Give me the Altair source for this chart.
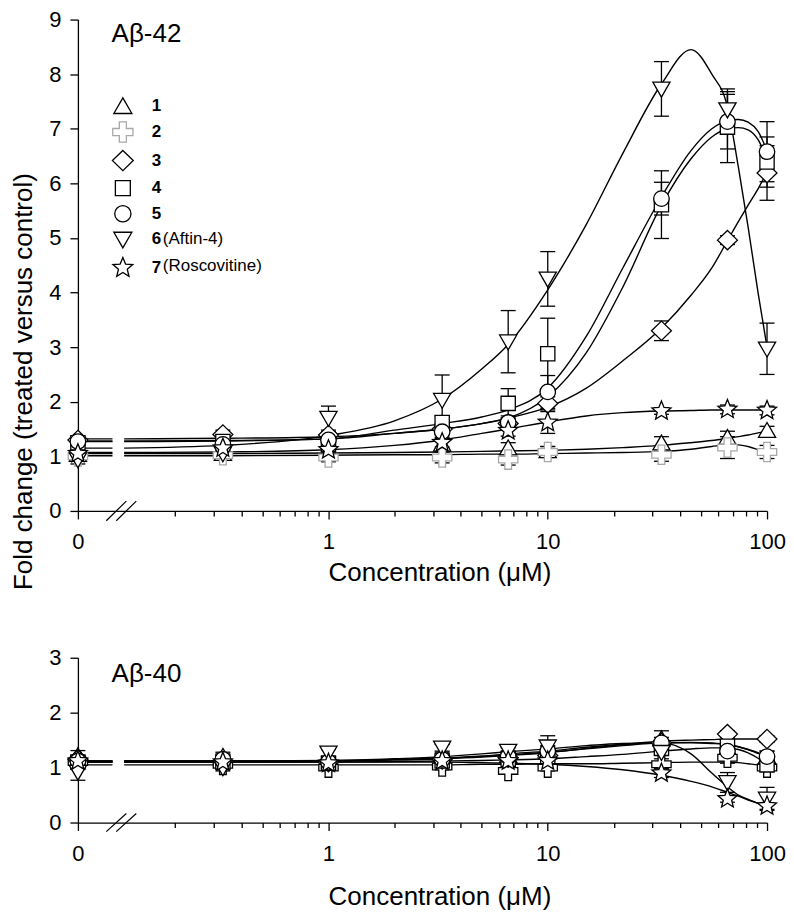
import altair as alt
import pandas as pd

# ---------------- data ----------------
conc = [0, 0.33, 1, 3.3, 6.6, 10, 33, 66, 100]          # µM, 0 sits left of the axis break
zero_pos = 0.072                                          # where "0" is drawn on the log axis
break_left = 0.1035                                       # end of the short segment before the break
curve_x = [0.117, 0.33, 1, 2, 3.3, 5, 6.6, 10, 15, 22, 33, 45, 56, 66, 74, 82, 91, 100]
series = ["1", "2", "3", "4", "5", "6", "7"]

# ---- A-beta 42 (top) ----
top_mean = {
    "1": [1.03, 1.05, 1.08, 1.22, 1.15, 1.10, 1.24, 1.34, 1.47],
    "2": [1.00, 1.02, 0.98, 0.98, 0.94, 1.08, 1.03, 1.16, 1.08],
    "3": [1.30, 1.40, 1.39, 1.50, 1.60, 1.97, 3.30, 4.96, 6.19],
    "4": [1.25, 1.27, 1.22, 1.62, 1.97, 2.88, 5.61, 7.03, 6.39],
    "5": [1.27, 1.22, 1.30, 1.45, 1.62, 2.18, 5.72, 7.13, 6.58],
    "6": [0.94, 1.05, 1.70, 2.03, 3.10, 4.25, 7.73, 7.35, 2.97],
    "7": [1.05, 1.15, 1.12, 1.25, 1.47, 1.62, 1.83, 1.86, 1.84],
}
top_err = {
    "1": [0.05, 0.05, 0.05, 0.08, 0.10, 0.08, 0.12, 0.12, 0.08],
    "2": [0.06, 0.06, 0.08, 0.10, 0.10, 0.10, 0.12, 0.20, 0.12],
    "3": [0.05, 0.08, 0.06, 0.10, 0.10, 0.12, 0.18, 0.08, 0.50],
    "4": [0.05, 0.08, 0.08, 0.12, 0.27, 0.65, 0.62, 0.65, 0.46],
    "5": [0.05, 0.06, 0.08, 0.10, 0.12, 0.30, 0.30, 0.50, 0.55],
    "6": [0.08, 0.10, 0.22, 0.46, 0.57, 0.50, 0.50, 0.38, 0.47],
    "7": [0.05, 0.05, 0.08, 0.08, 0.10, 0.20, 0.06, 0.08, 0.08],
}
top_curve = {
    "1": [1.05, 1.05, 1.06, 1.07, 1.08, 1.09, 1.10, 1.11, 1.13, 1.16, 1.20, 1.25, 1.29, 1.33, 1.36, 1.39, 1.43, 1.46],
    "2": [1.01, 1.01, 1.02, 1.03, 1.03, 1.04, 1.04, 1.05, 1.06, 1.07, 1.09, 1.13, 1.18, 1.21, 1.21, 1.18, 1.12, 1.06],
    "3": [1.32, 1.33, 1.36, 1.42, 1.50, 1.60, 1.70, 1.90, 2.25, 2.75, 3.35, 3.95, 4.45, 4.95, 5.30, 5.60, 5.90, 6.20],
    "4": [1.28, 1.29, 1.32, 1.42, 1.50, 1.60, 1.70, 2.09, 2.90, 4.10, 5.60, 6.45, 6.85, 7.00, 7.02, 6.98, 6.80, 6.45],
    "5": [1.27, 1.28, 1.32, 1.48, 1.60, 1.72, 1.85, 2.25, 3.20, 4.45, 5.75, 6.60, 7.00, 7.15, 7.17, 7.12, 6.95, 6.60],
    "6": [1.15, 1.20, 1.38, 1.65, 2.05, 2.60, 3.05, 4.05, 5.25, 6.55, 7.82, 8.45, 8.00, 7.40, 6.30, 5.20, 4.00, 3.00],
    "7": [1.07, 1.08, 1.12, 1.20, 1.30, 1.42, 1.50, 1.63, 1.74, 1.80, 1.83, 1.84, 1.85, 1.85, 1.85, 1.85, 1.85, 1.85],
}

# ---- A-beta 40 (bottom) ----
bot_mean = {
    "1": [1.21, 1.20, 1.12, 1.20, 1.22, 1.28, 1.52, 1.35, 1.20],
    "2": [1.10, 1.05, 1.00, 1.02, 0.94, 1.00, 1.06, 1.18, 1.00],
    "3": [1.15, 1.12, 1.10, 1.15, 1.18, 1.22, 1.45, 1.61, 1.52],
    "4": [1.10, 1.10, 1.08, 1.12, 1.15, 1.20, 1.35, 1.39, 1.05],
    "5": [1.12, 1.15, 1.10, 1.15, 1.20, 1.30, 1.45, 1.30, 1.20],
    "6": [0.92, 1.00, 1.27, 1.36, 1.30, 1.38, 1.28, 0.73, 0.43],
    "7": [1.12, 1.10, 1.08, 1.12, 1.12, 1.12, 0.90, 0.43, 0.30],
}
bot_err = {
    "1": [0.10, 0.08, 0.06, 0.08, 0.08, 0.10, 0.15, 0.10, 0.10],
    "2": [0.05, 0.05, 0.05, 0.06, 0.06, 0.06, 0.10, 0.10, 0.06],
    "3": [0.06, 0.06, 0.06, 0.06, 0.06, 0.06, 0.06, 0.06, 0.06],
    "4": [0.08, 0.08, 0.08, 0.08, 0.08, 0.08, 0.08, 0.08, 0.08],
    "5": [0.10, 0.10, 0.10, 0.10, 0.10, 0.10, 0.10, 0.10, 0.10],
    "6": [0.15, 0.06, 0.06, 0.06, 0.06, 0.20, 0.20, 0.18, 0.21],
    "7": [0.05, 0.05, 0.05, 0.05, 0.05, 0.05, 0.08, 0.06, 0.06],
}
bot_curve = {
    "1": [1.12, 1.12, 1.13, 1.15, 1.17, 1.20, 1.23, 1.28, 1.34, 1.40, 1.45, 1.46, 1.45, 1.42, 1.38, 1.33, 1.27, 1.20],
    "2": [1.05, 1.05, 1.05, 1.05, 1.05, 1.06, 1.06, 1.07, 1.07, 1.08, 1.09, 1.10, 1.10, 1.10, 1.09, 1.07, 1.05, 1.02],
    "3": [1.12, 1.12, 1.12, 1.14, 1.16, 1.19, 1.22, 1.27, 1.35, 1.42, 1.48, 1.50, 1.51, 1.52, 1.52, 1.52, 1.52, 1.52],
    "4": [1.10, 1.10, 1.10, 1.11, 1.12, 1.13, 1.14, 1.16, 1.20, 1.24, 1.30, 1.34, 1.36, 1.36, 1.33, 1.27, 1.17, 1.05],
    "5": [1.12, 1.12, 1.12, 1.14, 1.17, 1.21, 1.25, 1.30, 1.37, 1.42, 1.45, 1.45, 1.44, 1.42, 1.38, 1.33, 1.26, 1.20],
    "6": [1.10, 1.10, 1.12, 1.16, 1.20, 1.25, 1.29, 1.34, 1.40, 1.44, 1.45, 1.25, 0.90, 0.65, 0.50, 0.42, 0.35, 0.30],
    "7": [1.10, 1.10, 1.10, 1.10, 1.10, 1.09, 1.08, 1.06, 1.02, 0.96, 0.86, 0.75, 0.65, 0.55, 0.48, 0.41, 0.35, 0.30],
}

x_major = [0.072, 1, 10, 100]
x_minor = [0.2, 0.3, 0.4, 0.5, 0.6, 0.7, 0.8, 0.9, 2, 3, 4, 5, 6, 7, 8, 9,
           20, 30, 40, 50, 60, 70, 80, 90]
break_x1 = [0.0970, 0.1077]
break_x2 = [0.1197, 0.1329]

# marker outlines (unit paths)
shape_paths = [
    "M0,-0.78L0.82,0.64L-0.82,0.64Z",
    "M-0.32,-0.92L0.32,-0.92L0.32,-0.32L0.92,-0.32L0.92,0.32L0.32,0.32L0.32,0.92L-0.32,0.92L-0.32,0.32L-0.92,0.32L-0.92,-0.32L-0.32,-0.32Z",
    "M0,-0.92L0.95,0L0,0.92L-0.95,0Z",
    "M-0.68,-0.68L0.68,-0.68L0.68,0.68L-0.68,0.68Z",
    "M0.74,0A0.74,0.74,0,1,1,-0.74,0A0.74,0.74,0,1,1,0.74,0Z",
    "M-0.82,-0.64L0.82,-0.64L0,0.78Z",
    "M0,-0.95L0.2469,-0.3398L0.9035,-0.2936L0.3994,0.1298L0.5584,0.7686L0,0.42L-0.5584,0.7686L-0.3994,0.1298L-0.9035,-0.2936L-0.2469,-0.3398Z",
]

FONT = "Liberation Sans"


def build_panel(mean, err, curve, ymax, panel_label, top):
    rows = []
    for s in series:
        for c, m, e in zip(conc, mean[s], err[s]):
            rows.append({"series": s, "x": zero_pos if c == 0 else c,
                         "val": m, "lo": m - e, "hi": m + e})
    pts = pd.DataFrame(rows)

    crow = []
    for s in series:
        crow.append({"series": s, "part": "a", "x": zero_pos, "y": curve[s][0]})
        crow.append({"series": s, "part": "a", "x": break_left, "y": curve[s][0]})
        for xx, yy in zip(curve_x, curve[s]):
            crow.append({"series": s, "part": "b", "x": xx, "y": yy})
    crv = pd.DataFrame(crow)

    bh = 0.18 if top else 0.165
    brk = pd.DataFrame({"x": break_x1, "x2": break_x2, "y": [-bh, -bh], "y2": [bh, bh]})

    xscale = alt.Scale(type="log", domain=[zero_pos, 100], nice=False)
    yscale = alt.Scale(domain=[0, ymax], nice=False, zero=False)

    xaxis_major = alt.Axis(
        orient="bottom", values=x_major,
        labelExpr="datum.value < 0.1 ? '0' : (datum.value == 1 ? '1' : (datum.value == 10 ? '10' : '100'))",
        labelOverlap=False, labelFlush=False, tickSize=8, labelPadding=13,
        title="Concentration (\u03bcM)",
        titleX=362, titleY=70 if top else 82, titleBaseline="alphabetic",
        titleAlign="center", grid=False,
    )
    xaxis_minor = alt.Axis(orient="bottom", values=x_minor, tickSize=5, labels=False,
                           domain=False, title=None, grid=False)
    if top:
        yaxis = alt.Axis(values=list(range(0, ymax + 1)), format="d", tickSize=8, labelPadding=9,
                         grid=False, title="Fold change (treated versus control)",
                         titleX=-46, titleY=362, titleBaseline="alphabetic",
                         titleAngle=270, titleAlign="center")
    else:
        yaxis = alt.Axis(values=list(range(0, ymax + 1)), format="d", tickSize=8, labelPadding=9,
                         grid=False, title=None)

    lines = alt.Chart(crv).mark_line(interpolate="monotone", color="black", strokeWidth=1.4).encode(
        x=alt.X("x:Q", scale=xscale, axis=xaxis_major),
        y=alt.Y("y:Q", scale=yscale, axis=yaxis),
        detail=["series:N", "part:N"],
    )
    breaks = alt.Chart(brk).mark_rule(color="black", strokeWidth=1.2).encode(
        x=alt.X("x:Q", axis=xaxis_minor), x2="x2:Q", y="y:Q", y2="y2:Q")

    pbase = alt.Chart(pts)
    bars = pbase.mark_rule(color="black", strokeWidth=1.3).encode(
        x=alt.X("x:Q", axis=None), y="lo:Q", y2="hi:Q")
    cap_hi = pbase.mark_point(shape="stroke", size=225, color="black", strokeWidth=1.3,
                              opacity=1).encode(x=alt.X("x:Q", axis=None), y="hi:Q")
    cap_lo = pbase.mark_point(shape="stroke", size=225, color="black", strokeWidth=1.3,
                              opacity=1).encode(x=alt.X("x:Q", axis=None), y="lo:Q")

    if top:
        shape_legend = alt.Legend(
            orient="none", legendX=33, legendY=75, title=None,
            symbolSize=484, symbolStrokeWidth=1.3, symbolFillColor="white",
            symbolStrokeColor="black", labelFont=FONT, labelFontSize=17,
            labelFontWeight="bold", labelColor="black", labelOffset=17,
            rowPadding=2.6, padding=0, symbolOffset=0)
        stroke_range = ["black", "#a8a8a8", "black", "black", "black", "black", "black"]
    else:
        shape_legend = None
        stroke_range = ["black"] * 7

    points = pbase.mark_point(filled=True, fill="white", size=441, strokeWidth=1.3,
                              opacity=1).encode(
        x=alt.X("x:Q", axis=None), y="val:Q",
        shape=alt.Shape("series:N", scale=alt.Scale(domain=series, range=shape_paths),
                        legend=shape_legend),
        stroke=alt.Stroke("series:N", scale=alt.Scale(domain=series, range=stroke_range),
                          legend=None),
        order=alt.Order("series:N"),
    )

    lab = alt.Chart(pd.DataFrame({"t": [panel_label]})).mark_text(
        font=FONT, fontSize=26, align="left", baseline="alphabetic", color="black").encode(
        text="t:N", x=alt.value(33.7), y=alt.value(22 if top else 24))

    layers = [lines, breaks, bars, cap_hi, cap_lo, points, lab]
    if top:
        for txt, yy in [("(Aftin-4)", 220), ("(Roscovitine)", 247)]:
            layers.append(alt.Chart(pd.DataFrame({"t": [txt]})).mark_text(
                font=FONT, fontSize=17, align="left", baseline="middle", color="black").encode(
                text="t:N", x=alt.value(85), y=alt.value(yy)))

    return alt.layer(*layers).resolve_axis(x="independent").properties(
        width=690, height=492 if top else 165)


top_chart = build_panel(top_mean, top_err, top_curve, 9, "A\u03b2-42", True)
bot_chart = build_panel(bot_mean, bot_err, bot_curve, 3, "A\u03b2-40", False)

chart = alt.vconcat(top_chart, bot_chart, spacing=57).resolve_scale(
    x="independent", y="independent", shape="independent", stroke="independent"
).resolve_legend(shape="independent", stroke="independent").properties(
    padding={"left": 2, "top": 0, "right": 0, "bottom": 0}
).configure_view(stroke=None).configure_axis(
    labelFont=FONT, labelFontSize=22, labelColor="black",
    titleFont=FONT, titleFontSize=26, titleColor="black", titleFontWeight="normal",
    domainColor="black", domainWidth=1.3, tickColor="black", tickWidth=1.3,
)

chart.save("out.html", embed_options={"renderer": "svg", "actions": False})
